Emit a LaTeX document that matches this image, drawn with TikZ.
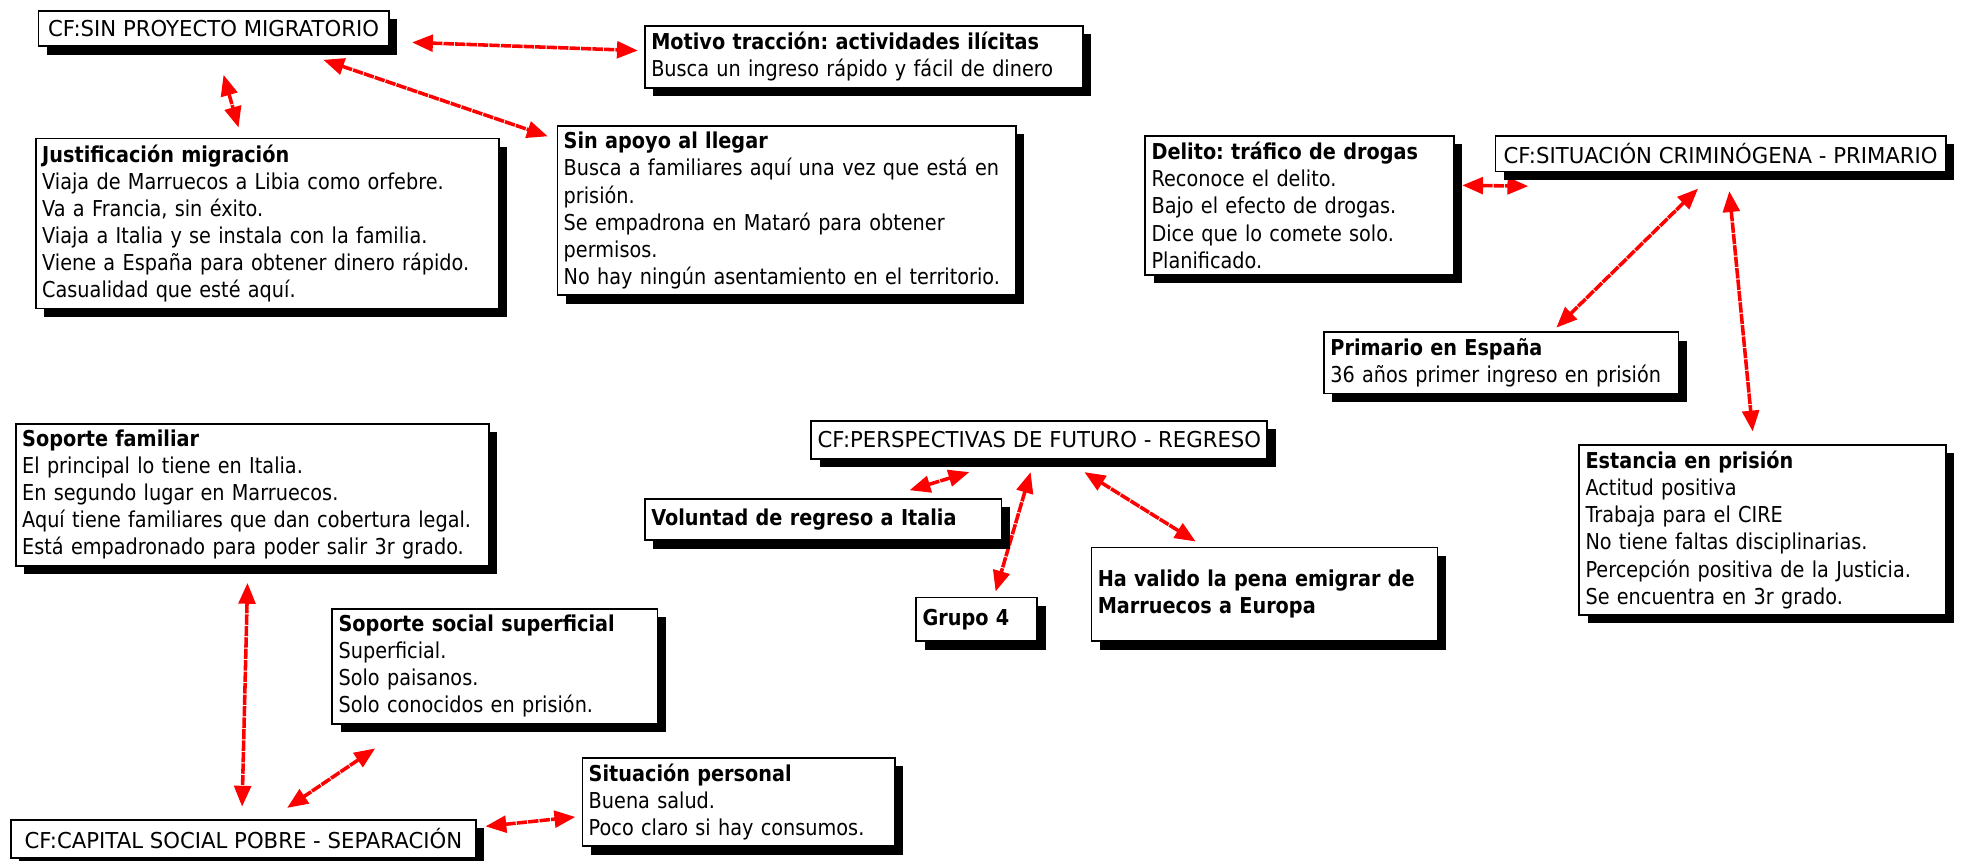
\documentclass[tikz,border=0pt]{standalone}
\usepackage{fontspec}
\setmainfont[FakeStretch=0.88]{DejaVu Sans}
\newfontfamily\cffont[FakeStretch=0.97]{DejaVu Sans}
\usepackage{tikz}
\usetikzlibrary{shadows,arrows.meta,calc,backgrounds}
\frenchspacing

\tikzset{
    caja/.style={draw, line width=0.9pt, fill=white, anchor=north west, align=left,
        inner xsep=3pt, inner ysep=3pt, font=\fontsize{10.5}{13}\selectfont,
        drop shadow={shadow xshift=4pt, shadow yshift=-4pt, fill=black, opacity=1}},
    cf/.style={caja, align=center, inner ysep=0pt, font=\cffont\fontsize{10.5}{13}\selectfont},
    enlace/.style={red, line width=1.7pt, dash pattern=on 5pt off 0.5pt,
        {Triangle[length=10pt,width=8pt]}-{Triangle[length=10pt,width=8pt]}}
}

\begin{document}
\begin{tikzpicture}[x=0.6pt, y=-0.6pt]
        \useasboundingbox (0,0) rectangle (1568,688);

        \node[cf, minimum width=168pt, minimum height=17pt] (sinproy) at (30,8) {CF:SIN PROYECTO MIGRATORIO};
        \node[caja, text width=204pt] (motivo) at (515,20)
            {\textbf{Motivo tracción: actividades ilícitas}\\Busca un ingreso rápido y fácil de dinero};
        \node[caja, text width=216pt] (justif) at (28,110)
            {\textbf{Justificación migración}\\Viaja de Marruecos a Libia como orfebre.\\Va a Francia, sin éxito.\\Viaja a Italia y se instala con la familia.\\Viene a España para obtener dinero rápido.\\Casualidad que esté aquí.};
        \node[caja, text width=214pt] (sinapoyo) at (445,100)
            {\textbf{Sin apoyo al llegar}\\Busca a familiares aquí una vez que está en\\prisión.\\Se empadrona en Mataró para obtener\\permisos.\\No hay ningún asentamiento en el territorio.};

        \node[caja, text width=142pt] (delito) at (915,108)
            {\textbf{Delito: tráfico de drogas}\\Reconoce el delito.\\Bajo el efecto de drogas.\\Dice que lo comete solo.\\Planificado.};
        \node[cf, minimum width=216pt, minimum height=17pt] (crimin) at (1195,108) {CF:SITUACIÓN CRIMINÓGENA - PRIMARIO};
        \node[caja, text width=164pt] (primario) at (1058,265)
            {\textbf{Primario en España}\\36 años primer ingreso en prisión};
        \node[caja, text width=170pt] (estancia) at (1262,355)
            {\textbf{Estancia en prisión}\\Actitud positiva\\Trabaja para el CIRE\\No tiene faltas disciplinarias.\\Percepción positiva de la Justicia.\\Se encuentra en 3r grado.};

        \node[cf, minimum width=217pt, minimum height=18pt] (persp) at (648,336) {CF:PERSPECTIVAS DE FUTURO - REGRESO};
        \node[caja, text width=165pt, minimum height=20pt] (volun) at (515,398) {\textbf{Voluntad de regreso a Italia}};
        \node[caja, text width=52pt, minimum height=21pt] (grupo) at (732,477) {\textbf{Grupo 4}};
        \node[caja, text width=160pt, minimum height=45pt] (havalido) at (872,437)
            {\textbf{Ha valido la pena emigrar de}\\\textbf{Marruecos a Europa}};

        \node[caja, text width=221pt] (sfam) at (12,338)
            {\textbf{Soporte familiar}\\El principal lo tiene en Italia.\\En segundo lugar en Marruecos.\\Aquí tiene familiares que dan cobertura legal.\\Está empadronado para poder salir 3r grado.};
        \node[caja, text width=150pt] (ssoc) at (265,486)
            {\textbf{Soporte social superficial}\\Superficial.\\Solo paisanos.\\Solo conocidos en prisión.};
        \node[caja, text width=144pt] (spers) at (465,605)
            {\textbf{Situación personal}\\Buena salud.\\Poco claro si hay consumos.};
        \node[cf, minimum width=223pt, minimum height=18pt] (capital) at (8,655) {CF:CAPITAL SOCIAL POBRE - SEPARACIÓN};

        \begin{pgfonlayer}{background}
            \draw[enlace] ($(sinproy.east)+(18,11)$) -- ($(motivo.west)+(-5,-5)$);
            \draw[enlace] ($(sinproy.south)+(8,22)$) -- ($(justif.north)+(-23,-8)$);
            \draw[enlace] ($(sinproy.south east)+(-53,10)$) -- ($(sinapoyo.north west)+(-7,9)$);
            \draw[enlace] ($(delito.east)+(6,-16)$) -- ($(crimin.south west)+(27,11)$);
            \draw[enlace] ($(crimin.south)+(-18,13)$) -- ($(primario.north)+(44,-3)$);
            \draw[enlace] ($(crimin.south)+(7,15)$) -- ($(estancia.north)+(-8,-10)$);
            \draw[enlace] ($(persp.south)+(-56,10)$) -- ($(volun.north)+(69,-6)$);
            \draw[enlace] ($(persp.south)+(-7,10)$) -- ($(grupo.north)+(15,-4)$);
            \draw[enlace] ($(persp.south)+(36,10)$) -- ($(havalido.north)+(-55,-4)$);
            \draw[enlace] ($(sfam.south)+(-4,13)$) -- ($(capital.north)+(-1,-10)$);
            \draw[enlace] ($(ssoc.south west)+(35,19)$) -- ($(capital.north)+(35,-9)$);
            \draw[enlace] ($(capital.east)+(7,-10)$) -- ($(spers.west)+(-5,12)$);
        \end{pgfonlayer}
\end{tikzpicture}
\end{document}
